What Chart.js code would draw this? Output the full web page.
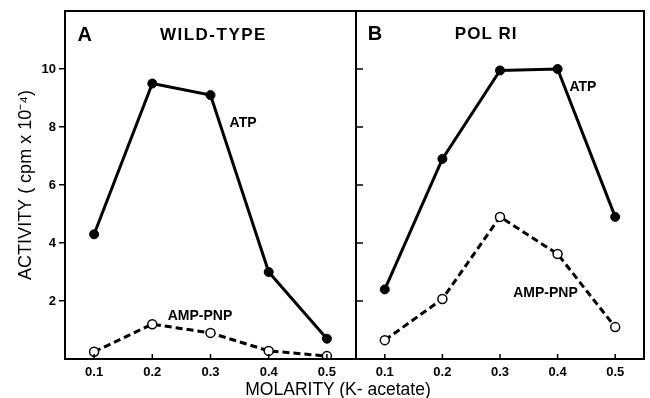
<!DOCTYPE html>
<html>
<head>
<meta charset="utf-8">
<script src="https://cdn.jsdelivr.net/npm/chart.js@4.4.0/dist/chart.umd.min.js"></script>
<style>
    body { margin: 0; background: #fff; }
    #wrap { position: relative; width: 650px; height: 398px; }
    canvas { position: absolute; left: 0; top: 0; }
    #xtitle {
        position: absolute; left: 218px; width: 240px; top: 379px;
        text-align: center; font: 17.5px "Liberation Sans", Arial, sans-serif;
        line-height: 20px; color: #000;
    }
</style>
</head>
<body>
<div id="wrap">
    <canvas id="panelA" width="650" height="398"></canvas>
    <canvas id="panelB" width="650" height="398"></canvas>
    <div id="xtitle">MOLARITY (K- acetate)</div>
</div>
<script>
// values
const molarity = [0.1, 0.2, 0.3, 0.4, 0.5];
const wildAtp = [4.3, 9.5, 9.1, 3.0, 0.7];
const wildAmpPnp = [0.25, 1.2, 0.9, 0.28, 0.1];
const polAtp = [2.4, 6.9, 9.95, 10.0, 4.9];
const polAmpPnp = [0.65, 2.07, 4.9, 3.62, 1.1];
const yTickValues = [2, 4, 6, 8, 10];

const FONT = '"Liberation Sans", Arial, sans-serif';

function points(ys) {
    return molarity.map((x, i) => ({ x: x, y: ys[i] }));
}

function atpSet(ys) {
    return {
        label: 'ATP', data: points(ys),
        borderColor: '#000', backgroundColor: '#000',
        borderWidth: 3, pointRadius: 4.5, pointBorderWidth: 1,
        pointBackgroundColor: '#000', tension: 0
    };
}

function ampSet(ys) {
    return {
        label: 'AMP-PNP', data: points(ys),
        borderColor: '#000', backgroundColor: '#fff',
        borderWidth: 3, borderDash: [7, 4],
        pointRadius: 4.5, pointBorderWidth: 1.5,
        pointBackgroundColor: '#fff', tension: 0
    };
}

// frame + inward ticks + text labels placed in data units
const panelDecor = {
    id: 'panelDecor',
    afterDraw(chart, args, opts) {
        const ctx = chart.ctx;
        const a = chart.chartArea;
        const xs = chart.scales.x, ys = chart.scales.y;
        ctx.save();
        ctx.strokeStyle = '#000';
        ctx.lineWidth = 2;
        ctx.strokeRect(a.left, a.top, a.right - a.left, a.bottom - a.top);

        ctx.lineWidth = 1.5;
        ctx.beginPath();
        molarity.forEach(v => {
            const px = xs.getPixelForValue(v);
            ctx.moveTo(px, a.bottom);
            ctx.lineTo(px, a.bottom - 5);
        });
        if (opts.innerY) {
            yTickValues.forEach(v => {
                const py = ys.getPixelForValue(v);
                ctx.moveTo(a.left, py);
                ctx.lineTo(a.left + 7, py);
            });
        }
        ctx.stroke();

        ctx.fillStyle = '#000';
        ctx.textAlign = 'center';
        ctx.textBaseline = 'middle';
        (opts.notes || []).forEach(n => {
            ctx.font = n.font;
            ctx.letterSpacing = n.spacing || '0px';
            ctx.fillText(n.text, xs.getPixelForValue(n.x), ys.getPixelForValue(n.y));
        });
        ctx.restore();
    }
};

function xAxis() {
    return {
        type: 'linear', min: 0.05, max: 0.55,
        afterBuildTicks: s => { s.ticks = molarity.map(v => ({ value: v })); },
        afterFit: s => { s.height = 39; },
        grid: { display: false, drawTicks: false },
        border: { display: true, color: '#000', width: 2 },
        ticks: {
            color: '#000', padding: 6,
            font: { family: FONT, size: 13, weight: 'bold' },
            callback: v => v.toFixed(1)
        }
    };
}

function baseOptions() {
    return {
        responsive: false,
        animation: false,
        plugins: { legend: { display: false }, tooltip: { enabled: false } }
    };
}

const optsA = baseOptions();
optsA.layout = { padding: { top: 11, right: 294, left: 0, bottom: 0 } };
optsA.plugins.panelDecor = {
    innerY: false,
    notes: [
        { text: 'A', x: 0.084, y: 11.15, font: 'bold 20px ' + FONT },
        { text: 'WILD-TYPE', x: 0.305, y: 11.15, font: 'bold 17px ' + FONT, spacing: '1.5px' },
        { text: 'ATP', x: 0.356, y: 8.14, font: 'bold 14px ' + FONT },
        { text: 'AMP-PNP', x: 0.282, y: 1.48, font: 'bold 14px ' + FONT }
    ]
};
optsA.scales = {
    x: xAxis(),
    y: {
        min: 0, max: 12,
        afterBuildTicks: s => { s.ticks = yTickValues.map(v => ({ value: v })); },
        afterFit: s => { s.width = 65; },
        grid: { drawOnChartArea: false, tickLength: 6, color: '#000', lineWidth: 1.5 },
        border: { display: true, color: '#000', width: 2 },
        ticks: { color: '#000', padding: 3, font: { family: FONT, size: 13, weight: 'bold' } },
        title: {
            display: true, text: 'ACTIVITY ( cpm x 10⁻⁴)', color: '#000',
            font: { family: FONT, size: 18 }, padding: { top: 15, bottom: 0 }
        }
    }
};

new Chart(document.getElementById('panelA'), {
    type: 'line',
    data: { datasets: [atpSet(wildAtp), ampSet(wildAmpPnp)] },
    options: optsA,
    plugins: [panelDecor]
});

const optsB = baseOptions();
optsB.layout = { padding: { top: 11, right: 2, left: 356, bottom: 0 } };
optsB.plugins.panelDecor = {
    innerY: true,
    notes: [
        { text: 'B', x: 0.083, y: 11.2, font: 'bold 20px ' + FONT },
        { text: 'POL RI', x: 0.276, y: 11.2, font: 'bold 17px ' + FONT, spacing: '1px' },
        { text: 'ATP', x: 0.444, y: 9.36, font: 'bold 14px ' + FONT },
        { text: 'AMP-PNP', x: 0.379, y: 2.28, font: 'bold 14px ' + FONT }
    ]
};
optsB.scales = {
    x: xAxis(),
    y: { display: false, min: 0, max: 12 }
};

new Chart(document.getElementById('panelB'), {
    type: 'line',
    data: { datasets: [atpSet(polAtp), ampSet(polAmpPnp)] },
    options: optsB,
    plugins: [panelDecor]
});
</script>
</body>
</html>
